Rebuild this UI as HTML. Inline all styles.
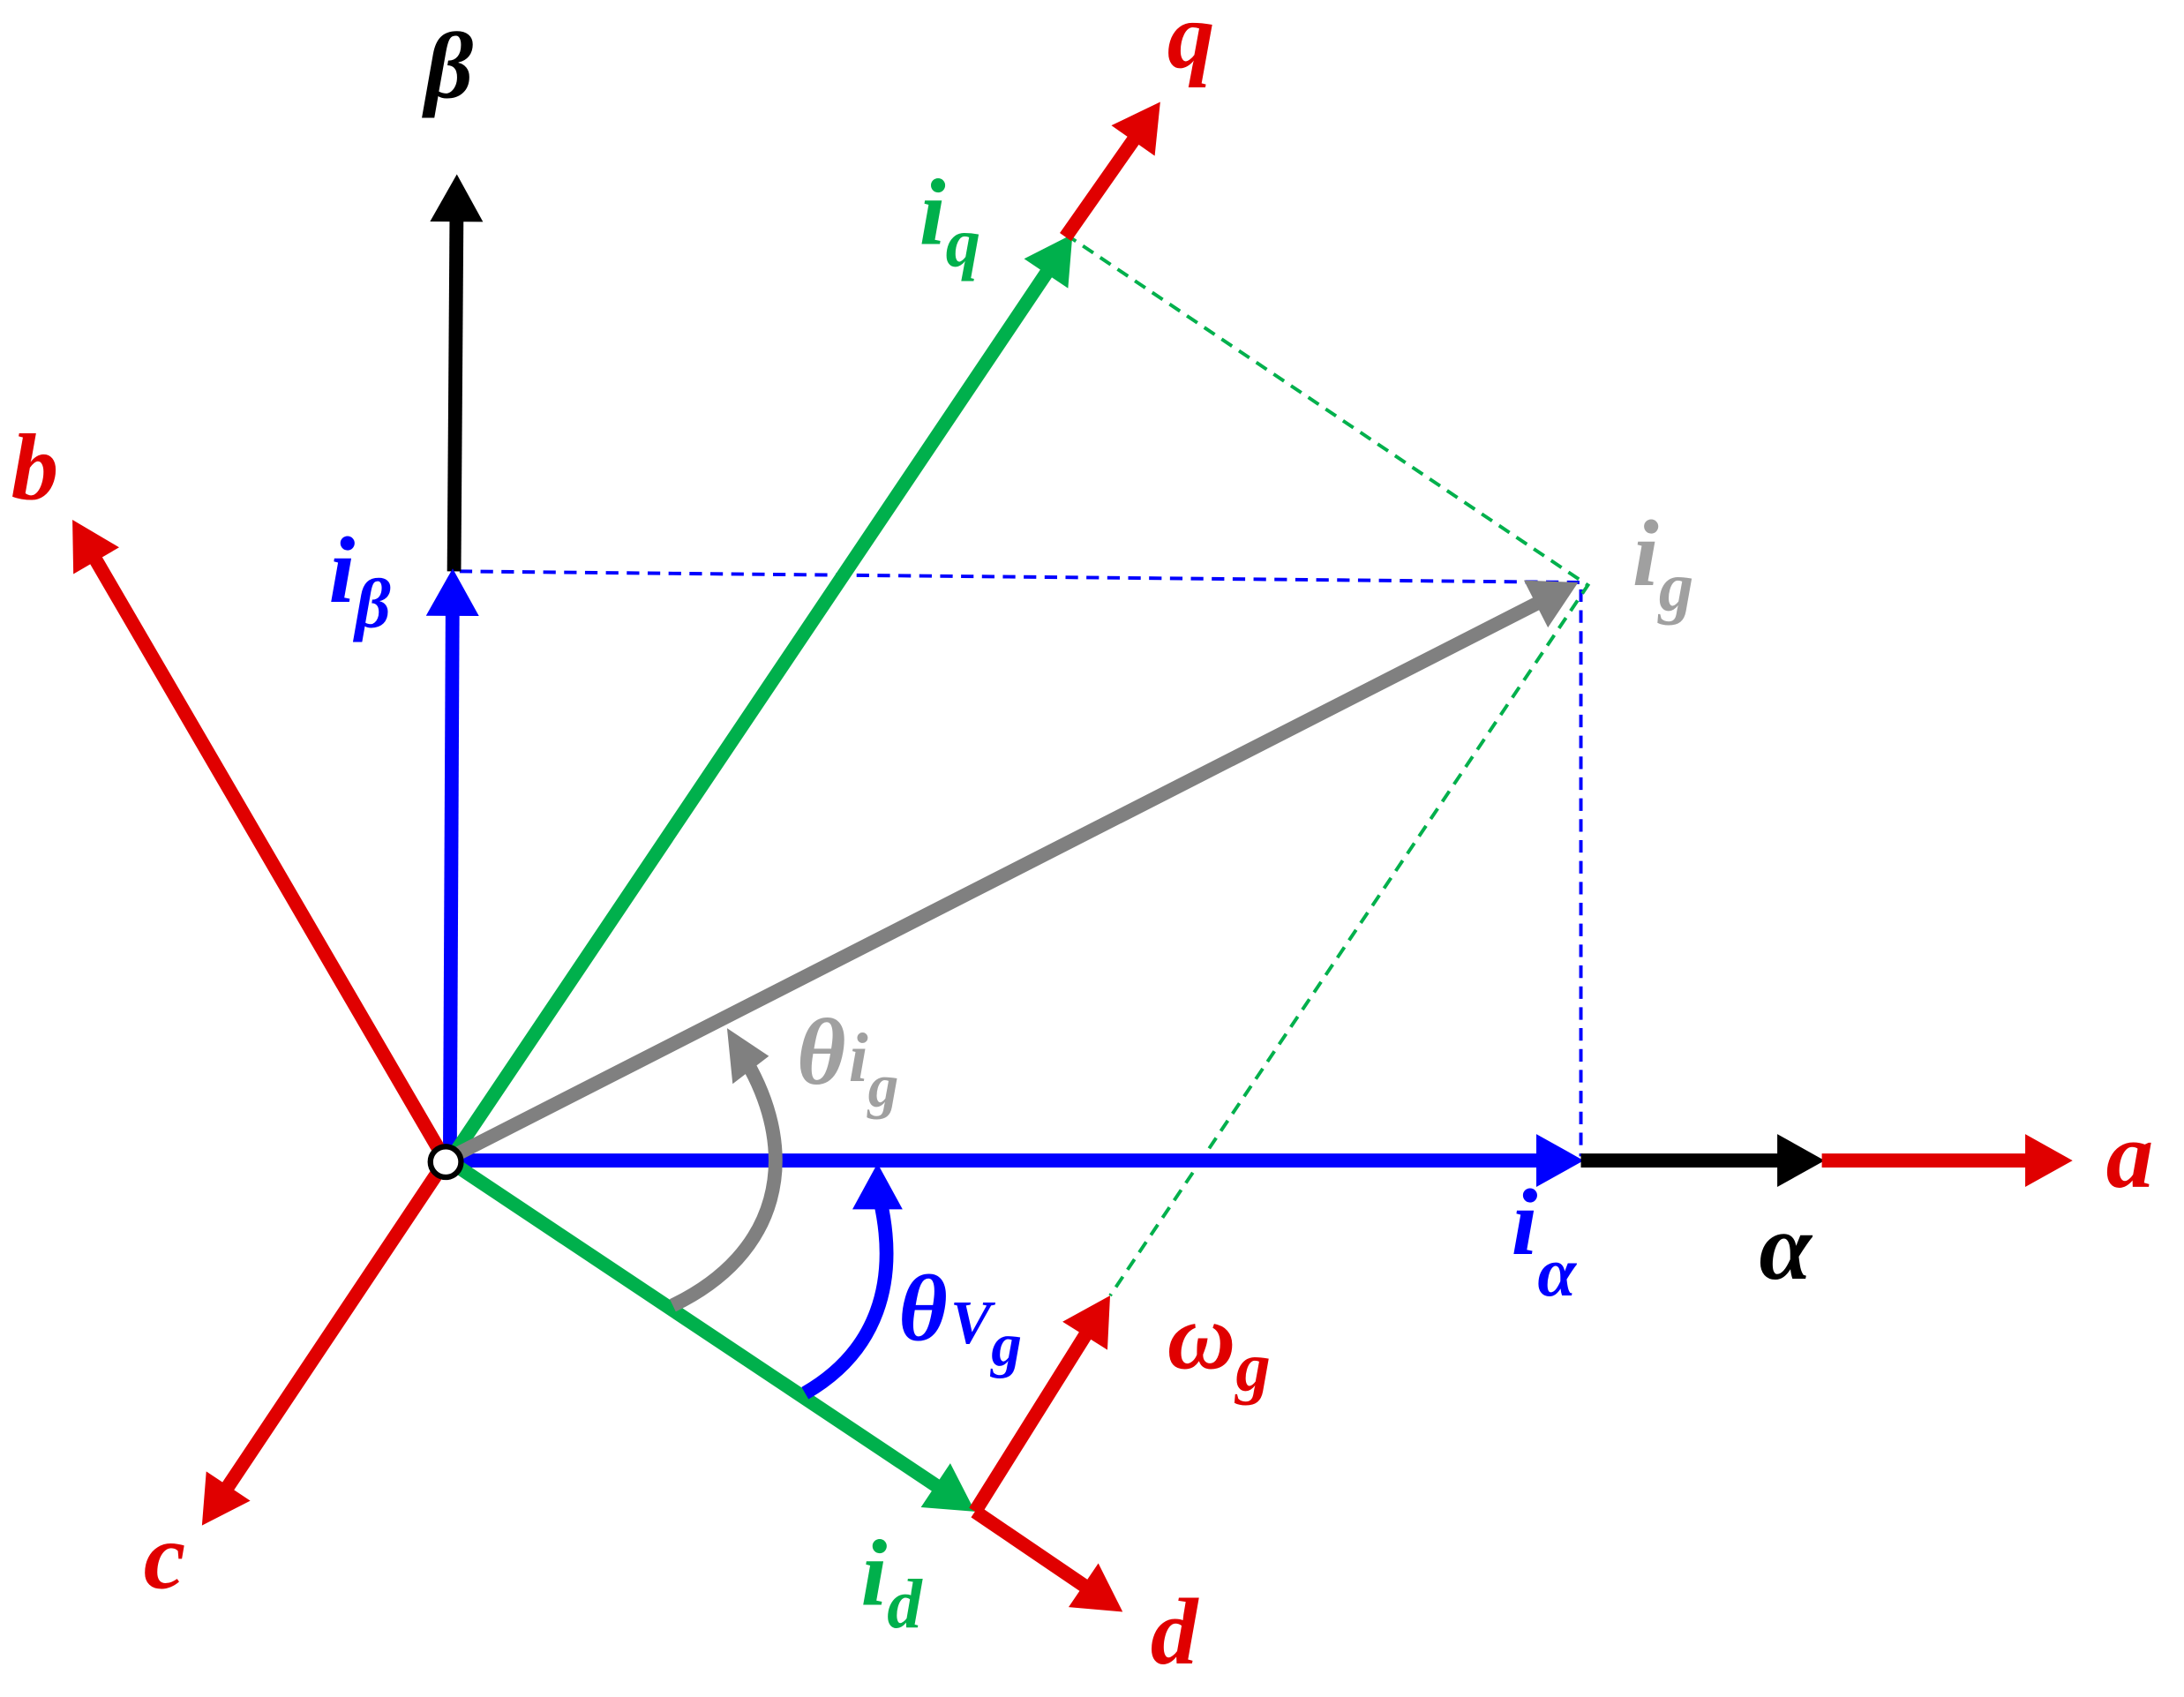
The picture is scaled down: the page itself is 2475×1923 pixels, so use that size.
<!DOCTYPE html>
<html><head><meta charset="utf-8"><style>
html,body{margin:0;padding:0;background:#fff;}
svg{display:block;}
text{font-family:"Liberation Serif",serif;font-weight:bold;font-style:italic;}
</style></head><body>
<svg id="s" width="2475" height="1923" viewBox="0 0 1568 1218" xmlns="http://www.w3.org/2000/svg">
<g fill="none" stroke-width="2.5" stroke-dasharray="9,6">
<polyline points="330,410 1135,418 1135,830" stroke="#0000ff"/>
<polyline points="765,168 1140,420 797,930" stroke="#00b04c"/>
</g>
<g id="arrows"></g>
<g fill="none" stroke-width="10">
<path d="M483,937 C560,900 575,830 536,762" stroke="#808080"/>
<path d="M578,1000 C630,970 645,920 632,862" stroke="#0000ff"/>
</g>
<polygon points="522,738 552,758 526,778" fill="#808080"/>
<polygon points="630,835 648,868 612,868" fill="#0000ff"/>
<circle cx="320" cy="834" r="11" fill="#fff" stroke="#000" stroke-width="4"/>
<g font-size="68">
<text x="305" y="70" fill="#000">β</text>
<text x="838" y="48" fill="#e00000">q</text>
<text x="660" y="175" fill="#00b04c">i<tspan font-size="50" dy="16">q</tspan></text>
<text x="8" y="358" fill="#e00000">b</text>
<text x="236" y="432" fill="#0000ff">i<tspan font-size="50" dy="18">β</tspan></text>
<text x="1172" y="420" fill="#a0a0a0">i<tspan font-size="50" dy="18">g</tspan></text>
<text x="572" y="778" fill="#a0a0a0">θ<tspan font-size="50" dx="2" dy="-2">i</tspan><tspan font-size="44" dy="18">g</tspan></text>
<text x="645" y="962" fill="#0000ff">θ<tspan font-size="44" dx="2" dy="2">V</tspan><tspan font-size="44" dy="16">g</tspan></text>
<text x="1085" y="900" fill="#0000ff">i<tspan font-size="50" dy="30">α</tspan></text>
<text x="1263" y="918" fill="#000">α</text>
<text x="1512" y="852" fill="#e00000">a</text>
<text x="838" y="982" fill="#e00000">ω<tspan font-size="50" dy="16">g</tspan></text>
<text x="103" y="1140" fill="#e00000">c</text>
<text x="618" y="1152" fill="#00b04c">i<tspan font-size="50" dy="16">d</tspan></text>
<text x="826" y="1194" fill="#e00000">d</text>
</g>
<script>
(function(){
var g=document.getElementById('arrows'),ns='http://www.w3.org/2000/svg';
var R='#e00000',B='#0000ff',K='#000',G='#00b04c',Y='#808080';
var A=[[326,410,328,125,K],[323,833,325,408,B],[320,833,1137,833,B],[1135,833,1310,833,K],[1308,833,1488,833,R],
[318,830,52,373,R],[318,836,145,1095,R],[325,830,770,168,G],[765,170,833,73,R],[700,1085,806,1157,R],
[325,835,700,1085,G],[700,1085,797,930,R],[325,830,1133,418,Y]];
A.forEach(function(a){
var dx=a[2]-a[0],dy=a[3]-a[1],L=Math.sqrt(dx*dx+dy*dy),ux=dx/L,uy=dy/L,h=34,w=19;
var bx=a[2]-ux*h,by=a[3]-uy*h;
var l=document.createElementNS(ns,'line');
l.setAttribute('x1',a[0]);l.setAttribute('y1',a[1]);l.setAttribute('x2',bx+ux*4);l.setAttribute('y2',by+uy*4);
l.setAttribute('stroke',a[4]);l.setAttribute('stroke-width',10);g.appendChild(l);
var p=document.createElementNS(ns,'polygon');
p.setAttribute('points',a[2]+','+a[3]+' '+(bx-uy*w)+','+(by+ux*w)+' '+(bx+uy*w)+','+(by-ux*w));
p.setAttribute('fill',a[4]);g.appendChild(p);
});
})();
</script>
</svg>
</body></html>
